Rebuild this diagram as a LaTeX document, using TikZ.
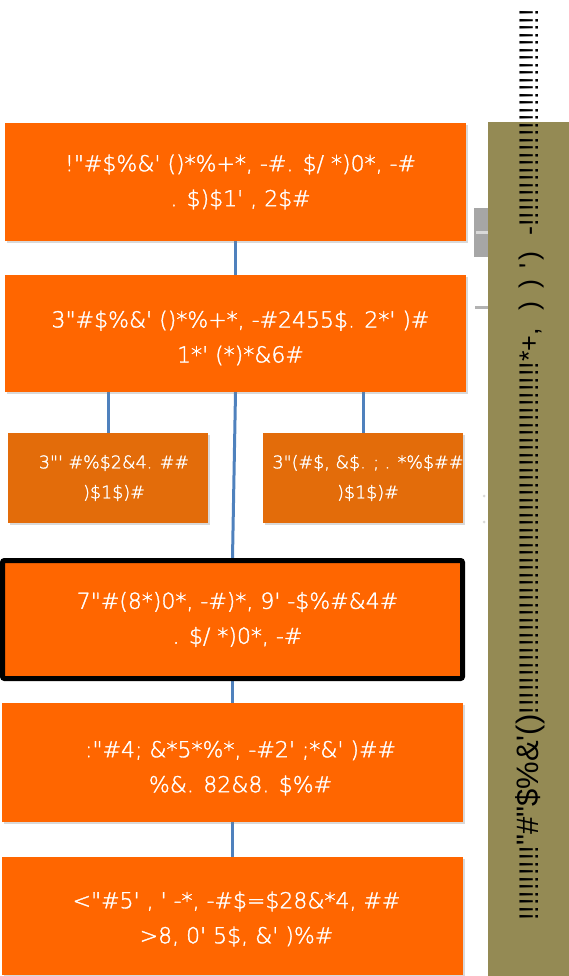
\documentclass[tikz,border=0pt]{standalone}
\usepackage{fontspec}
\newfontfamily\boxfont{DejaVu Sans ExtraLight}[FakeBold=1.5]
\newfontfamily\barfont{Liberation Sans}
\usetikzlibrary{shadows,backgrounds}
\definecolor{orng}{HTML}{FF6600}
\definecolor{dorng}{HTML}{E36C0A}
\definecolor{conn}{HTML}{4F81BD}
\definecolor{olivebar}{HTML}{948A54}
\newcommand\exten{!!!!!!!!!!}
\tikzset{
  box/.style={fill=orng, inner sep=0pt,
    minimum width=461pt, minimum height=118pt,
    drop shadow={shadow xshift=1.5pt, shadow yshift=-2pt, opacity=0.3}},
  smallbox/.style={box, fill=dorng, minimum width=200pt, minimum height=90pt},
  keybox/.style={box, draw=black, line width=5pt, rounded corners=2pt,
    minimum width=460pt},
  txt/.style={text=white, align=center, inner sep=0pt,
    font=\boxfont\fontsize{22}{35}\selectfont},
  smalltxt/.style={txt, font=\boxfont\fontsize{17.5}{30}\selectfont},
  link/.style={draw=conn, line width=3pt},
}
\begin{document}
\begin{tikzpicture}[x=1pt,y=-1pt]
\useasboundingbox (0,0) rectangle (569,976);
% artefacts behind the bar
\fill[black!35] (474,208) rectangle (492,257);
\fill[black!15] (476,231) rectangle (490,234);
\fill[black!30] (475,306) rectangle (490,309);
\fill[black!15] (484,496) circle (1.5);
\fill[black!15] (484,522) circle (1.5);
% boxes
\node[box] (b1) at (235.5,182) {};
\node[box, minimum height=117pt] (b2) at (235.5,333.5) {};
\node[smallbox] (b3) at (108,478) {};
\node[smallbox] (b4) at (363,478) {};
\node[keybox] (b5) at (232.5,619.5) {};
\node[box, minimum height=119pt] (b6) at (232.5,762.5) {};
\node[box] (b7) at (232.5,916) {};
% texts
\node[txt] (t1) at ([xshift=5pt]b1.center) {!"\#\$\%\&' ()*\%+*, -\#. \$/ *)0*, -\#\\. \$)\$1' , 2\$\#};
\node[txt] (t2) at ([xshift=5pt,yshift=-4.5pt]b2.center) {3"\#\$\%\&' ()*\%+*, -\#2455\$. 2*' )\#\\1*' (*)*\&6\#};
\node[smalltxt] (t3) at ([xshift=6pt]b3.center) {3"' \#\%\$2\&4. \#\#\\)\$1\$)\#};
\node[smalltxt] (t4) at ([xshift=5pt]b4.center) {3"(\#\$, \&\$. ; . *\%\$\#\#\\)\$1\$)\#};
\node[txt] (t5) at ([xshift=5pt]b5.center) {7"\#(8*)0*, -\#)*, 9' -\$\%\#\&4\#\\. \$/ *)0*, -\#};
\node[txt] (t6) at ([xshift=8pt,yshift=-5.5pt]b6.center) {:"\#4; \&*5*\%*, -\#2' ;*\&' )\#\#\\\%\&. 82\&8. \$\%\#};
\node[txt] (t7) at ([xshift=4pt,yshift=-3pt]b7.center) {<"\#5' , ' -*, -\#\$=\$28\&*4, \#\#\\>8, 0' 5\$, \&' )\%\#};
% connectors
\begin{scope}[on background layer]
\draw[link] (b1.south) -- (b2.north);
\draw[link] (b3.north |- b2.south) -- (b3.north);
\draw[link] (b4.north |- b2.south) -- (b4.north);
\draw[link] (b2.south) -- (b5.north);
\draw[link] (b5.south) -- (b6.north);
\draw[link] (b6.south) -- (b7.north);
\end{scope}
% side bar
\fill[olivebar] (488,122) rectangle (569,976);
\node[rotate=90, anchor=west, inner sep=0pt, font=\barfont\fontsize{27}{27}\selectfont] (side) at (530,921)
  {\exten{\fontsize{31}{31}\selectfont"\#"\$\%\&'()}\exten\exten\exten\exten!!!!!!!*+,\hspace{17pt})\hspace{13pt})\hspace{11pt}'\hspace{3pt})\hspace{16pt}-\exten\exten!!!!!!!!!};
\end{tikzpicture}
\end{document}
